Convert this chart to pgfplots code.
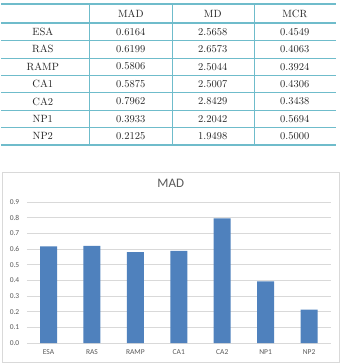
\documentclass[border=0pt]{standalone}
\usepackage{pgfplots}
\pgfplotsset{compat=1.18}
\usepackage{fontspec}
\newfontfamily\calibri{Carlito}
\definecolor{tblline}{HTML}{6FBCCB}
\definecolor{barblue}{HTML}{4F81BD}
\definecolor{gridgray}{HTML}{D9D9D9}
\definecolor{txtgray}{HTML}{595959}
\begin{document}
\begin{tikzpicture}[x=1pt,y=1pt,tab/.style={font=\rmfamily\fontsize{10.5}{12}\selectfont,text=black!85}]
% frame of the picture
\path (0pt,0pt) rectangle (340pt,-363pt);
% ---------- results table ----------
\foreach \yy in {40.4,57.9,75.3,92.7,110.1,127.6}
  \draw[tblline,line width=0.6pt] (0pt,-\yy pt) -- (335pt,-\yy pt);
\foreach \yy in {4,23,145}
  \draw[tblline,line width=1.6pt] (0pt,-\yy pt) -- (335pt,-\yy pt);
\foreach \xx in {88,171,253}
  \draw[tblline,line width=0.6pt] (\xx pt,-4pt) -- (\xx pt,-145pt);
\foreach \lab/\c in {MAD/130,MD/212,MCR/294}
  \node[tab] at (\c pt,-14pt) {\lab};
\foreach \r/\a/\b/\cc [count=\i] in {ESA/0.6164/2.5658/0.4549,RAS/0.6199/2.6573/0.4063,RAMP/0.5806/2.5044/0.3924,CA1/0.5875/2.5007/0.4306,CA2/0.7962/2.8429/0.3438,NP1/0.3933/2.2042/0.5694,NP2/0.2125/1.9498/0.5000}{
  \pgfmathsetmacro{\yc}{23+17.43*(\i-0.5)}
  \node[tab] at (42pt,-\yc pt) {\r};
  \node[tab] at (130pt,-\yc pt) {\a};
  \node[tab] at (212pt,-\yc pt) {\b};
  \node[tab] at (294pt,-\yc pt) {\cc};
}
% ---------- chart ----------
\draw[gridgray,line width=0.6pt] (1pt,-172pt) rectangle (338pt,-362pt);
\node[font=\calibri\fontsize{13}{15}\selectfont,text=txtgray] at (170pt,-183pt) {MAD};
\begin{axis}[
  at={(26pt,-343pt)}, anchor=south west,
  scale only axis, width=304pt, height=141pt,
  xmin=-0.5, xmax=6.5, ymin=0, ymax=0.9,
  xtick=data,
  xticklabels={ESA,RAS,RAMP,CA1,CA2,NP1,NP2},
  ytick={0,0.1,...,0.9},
  yticklabel style={/pgf/number format/fixed,/pgf/number format/fixed zerofill,/pgf/number format/precision=1},
  /pgf/number format/assume math mode=true,
  ticklabel style={font=\calibri\fontsize{7.5}{9}\selectfont,text=txtgray},
  yticklabel style={xshift=-4pt},
  xticklabel style={yshift=-3pt},
  axis line style={draw=none},
  major tick length=0pt,
  ymajorgrids, major grid style={gridgray,line width=0.6pt},
  ybar, bar width=17pt,
]
\addplot[fill=barblue,draw=none] coordinates {(0,0.6164) (1,0.6199) (2,0.5806) (3,0.5875) (4,0.7962) (5,0.3933) (6,0.2125)};
\end{axis}
\end{tikzpicture}
\end{document}
